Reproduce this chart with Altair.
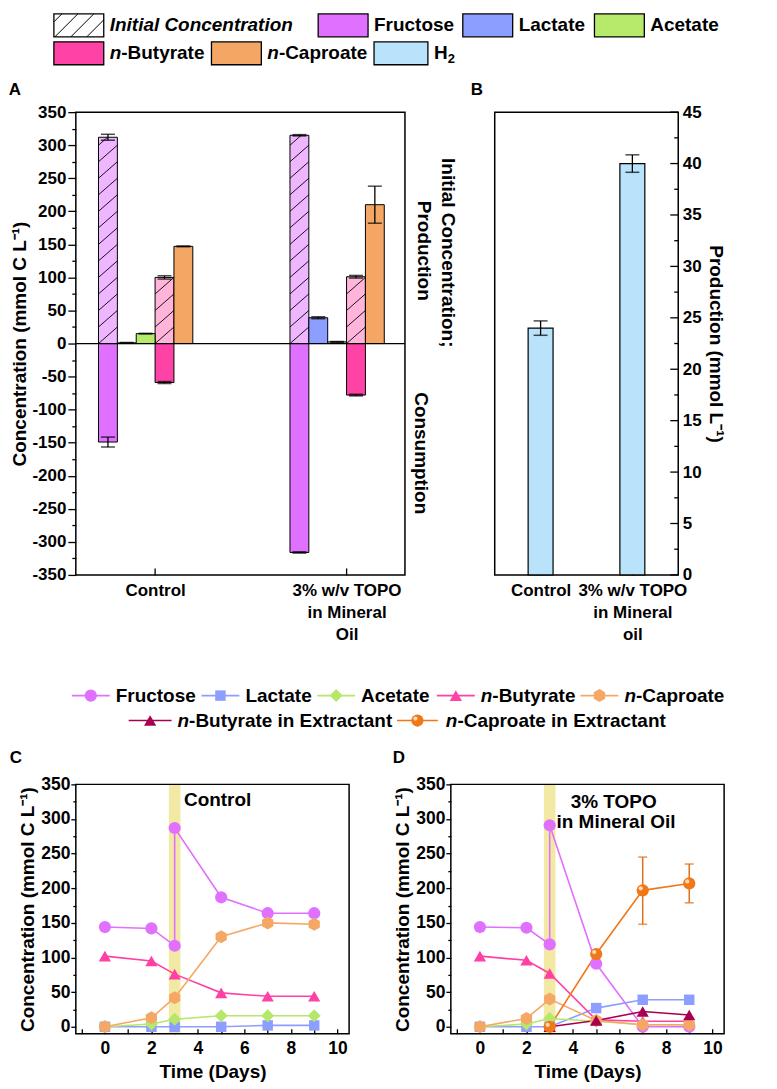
import json
import altair as alt
import pandas as pd

FONT = "Liberation Sans"
INK = "#000000"

# ---------------- Panel A : concentration (mmol C L-1) ----------------
a_group_pos = [1, 2]
a_x_labels = [["Control"], ["3% w/v TOPO", "in Mineral", "Oil"]]
a_series = ["Fructose", "Lactate", "Acetate", "n-Butyrate", "n-Caproate", "H2"]
fructose_initial = [312, 315]
fructose_initial_err = [4.5, 1.0]
butyrate_initial = [100, 101]
butyrate_initial_err = [2.5, 2.0]
fructose_consumption = [-149, -316]
fructose_consumption_err = [7.5, 1.0]
lactate_production = [1.0, 39]
lactate_production_err = [0.6, 1.5]
acetate_production = [15, 2.5]
acetate_production_err = [0.4, 0.6]
butyrate_consumption = [-59, -78]
butyrate_consumption_err = [1.5, 1.2]
caproate_production = [147, 210]
caproate_production_err = [0.6, 28]

# ---------------- Panel B : H2 production (mmol L-1) ----------------
b_group_pos = [1, 2]
b_x_labels = [["Control"], ["3% w/v TOPO", "in Mineral", "oil"]]
h2_production = [24.0, 40.0]
h2_production_err = [0.7, 0.85]

# ---------------- Panels C / D : time courses ----------------
days_feed = [0, 2, 3, 3, 5, 7, 9]
days = [0, 2, 3, 5, 7, 9]
days_ext = [3, 5, 7, 9]
feed_window = [2.75, 3.25]
c_fructose = [144, 142, 117, 287, 187, 164, 164]
c_lactate = [0, 0, 0, 0, 2, 2]
c_acetate = [0, 4, 11, 16, 16, 16]
c_butyrate = [102, 95, 76, 49, 44, 44]
c_caproate = [0, 13, 42, 130, 150, 148]
d_fructose = [144, 143, 119, 291, 91, 0, 0]
d_lactate = [0, 0, 0, 27, 39, 39]
d_acetate = [0, 4, 12, 8, 3, 3]
d_butyrate = [102, 96, 77, 10, 8, 8]
d_caproate = [0, 12, 40, 9, 3, 3]
d_butyrate_ext = [0, 9, 22, 17]
d_caproate_ext = [0, 105, 197, 207]
d_caproate_ext_lo = [0, 101, 148, 179]
d_caproate_ext_hi = [0, 109, 245, 235]

ts_series = ["Fructose", "Lactate", "Acetate", "n-Butyrate", "n-Caproate",
             "n-Butyrate in Extractant", "n-Caproate in Extractant"]

# ---------------- styles ----------------
a_colors = {"Fructose": "#E070FF", "Lactate": "#8C9EFF", "Acetate": "#B7E96B",
            "n-Butyrate": "#FF42A6", "n-Caproate": "#F4A764", "H2": "#B8E3FA"}
a_light = {"Fructose": "#EDB6FF", "n-Butyrate": "#FFB5DA"}
HEX = "M0,-1L0.866,-0.5L0.866,0.5L0,1L-0.866,0.5L-0.866,-0.5Z"
ts_colors = ["#E070FF", "#8C9EFF", "#B5E86A", "#FF40A5", "#F5A865", "#A8004F", "#F07818"]
ts_shapes = ["circle", "square", "diamond", "triangle-up", HEX, "triangle-up", "circle"]
ts_sizes = dict(zip(ts_series, [150, 110, 170, 150, 170, 150, 150]))

AX = dict(domain=False, grid=False, tickColor=INK, tickWidth=1.3, labelFont=FONT,
          labelFontWeight="bold", labelColor=INK, titleFont=FONT, titleFontWeight="bold",
          titleColor=INK, titleFontSize=19)
VIEW_FRAME = alt.ViewBackground(stroke=INK, strokeWidth=1.5)
VIEW_NONE = alt.ViewBackground(stroke="transparent")
TITLE_CONC = "Concentration (mmol C L\u207b\u00b9)"

# ---------------- page layout (px) ----------------
WA, HA, WB = 330, 464, 184
COL_GAP = 90                      # panel A plot -> panel B plot
ROW_GAP = 10
L1_TOP, A_TOP, C_TOP = 8, 107, 781
WT, HT = 274, 250
D_PLOT_X = 376                    # D plot left, relative to A/C plot left
D_SHIFT = WA + COL_GAP - D_PLOT_X


def label_expr(positions, labels):
    expr = "''"
    for p, lab in zip(positions, labels):
        val = json.dumps(lab[0]) if len(lab) == 1 else json.dumps(lab)
        expr = f"datum.value === {p} ? {val} : ({expr})"
    return expr


def const_text(text, x, y, size=19, angle=0, align="center", style="normal"):
    return alt.Chart(pd.DataFrame({"t": [text]})).mark_text(
        text=text, font=FONT, fontSize=size, fontWeight="bold", fontStyle=style,
        angle=angle, align=align, baseline="middle", color=INK,
    ).encode(x=alt.value(x), y=alt.value(y))


def ax_(field, scale, axis):
    return dict(field=field, type="quantitative", scale=scale, axis=axis)


# ================= Panel A =================
XA = alt.Scale(domain=[0.586, 2.305], nice=False, zero=False)
YA = alt.Scale(domain=[-350, 350], nice=False, zero=False)
BW = 0.0985


def a_rows(name, values, errs, light):
    k = a_series.index(name)
    col = a_light[name] if light else a_colors[name]
    return [{"g": g, "k": k, "series": name, "v": v, "err": e, "fillc": col}
            for g, v, e in zip(a_group_pos, values, errs)]


df_init = pd.DataFrame(a_rows("Fructose", fructose_initial, fructose_initial_err, True)
                       + a_rows("n-Butyrate", butyrate_initial, butyrate_initial_err, True))
df_solid = pd.DataFrame(a_rows("Fructose", fructose_consumption, fructose_consumption_err, False)
                        + a_rows("Lactate", lactate_production, lactate_production_err, False)
                        + a_rows("Acetate", acetate_production, acetate_production_err, False)
                        + a_rows("n-Butyrate", butyrate_consumption, butyrate_consumption_err, False)
                        + a_rows("n-Caproate", caproate_production, caproate_production_err, False))
df_a = pd.concat([df_init, df_solid], ignore_index=True)

minus = "(datum.value < 0 ? '-' + abs(datum.value) : '' + datum.value)"
ax_a_y = alt.Axis(values=list(range(-350, 351, 25)),
                  labelExpr=f"datum.value % 50 === 0 ? {minus} : ''",
                  tickSize={"condition": {"test": "datum.value % 50 === 0", "value": 8}, "value": 4},
                  labelFontSize=17, labelPadding=2, title=TITLE_CONC, titlePadding=2, **AX)
ax_a_x = alt.Axis(values=a_group_pos, labelExpr=label_expr(a_group_pos, a_x_labels),
                  offset=-7, tickSize=7, labelPadding=8, labelLineHeight=22, labelFontSize=17,
                  labelOverlap=False, labelFlush=False, title=None, **AX)

a_bars = alt.Chart(df_a).transform_calculate(
    xl=f"datum.g + (datum.k - 3) * {BW}", xr=f"datum.g + (datum.k - 2) * {BW}", zero="0"
).mark_rect(stroke=INK, strokeWidth=1).encode(
    x=alt.X(**ax_("xl", XA, ax_a_x)), x2=alt.X2("xr"),
    y=alt.Y(**ax_("v", YA, ax_a_y)), y2=alt.Y2("zero"),
    fill=alt.Fill("fillc:N", scale=None),
)
a_hatch = alt.Chart(df_init).transform_calculate(
    s="sequence(0, datum.v, 25)"
).transform_flatten(["s"]).transform_calculate(
    xl=f"datum.g + (datum.k - 3) * {BW}", ytop="min(datum.s + 25, datum.v)"
).transform_calculate(
    xr=f"datum.xl + {BW} * (datum.ytop - datum.s) / 25"
).mark_rule(color=INK, strokeWidth=0.9).encode(
    x=alt.X(**ax_("xl", XA, ax_a_x)), x2=alt.X2("xr"),
    y=alt.Y(**ax_("s", YA, ax_a_y)), y2=alt.Y2("ytop"),
)
a_zero = alt.Chart(pd.DataFrame({"z": [0]})).mark_rule(color=INK, strokeWidth=1.2).encode(
    y=alt.Y(**ax_("z", YA, ax_a_y)))
a_errbase = alt.Chart(df_a).transform_calculate(
    xc=f"datum.g + (datum.k - 2.5) * {BW}", lo="datum.v - datum.err", hi="datum.v + datum.err")
a_err_rule = a_errbase.mark_rule(color=INK, strokeWidth=1.3).encode(
    x=alt.X(**ax_("xc", XA, ax_a_x)), y=alt.Y(**ax_("lo", YA, ax_a_y)), y2=alt.Y2("hi"))
a_err_cap = a_errbase.transform_fold(["lo", "hi"], as_=["end", "ev"]).mark_tick(
    orient="horizontal", size=14, thickness=1.5, color=INK).encode(
    x=alt.X(**ax_("xc", XA, ax_a_x)), y=alt.Y(**ax_("ev", YA, ax_a_y)))

panel_a = alt.layer(
    a_bars, a_hatch, a_zero, a_err_rule, a_err_cap,
    const_text("A", -61, -22, size=17),
    const_text("Initial Concentration;", WA + 43, 141, angle=90),
    const_text("Production", WA + 19, 139, angle=90),
    const_text("Consumption", WA + 16, 342, angle=90),
).properties(width=WA, height=HA, view=VIEW_FRAME)

# ================= Panel B =================
XB = alt.Scale(domain=[0.5, 2.5], nice=False, zero=False)
YB = alt.Scale(domain=[0, 45], nice=False, zero=False)
BHW = 12.5 / (WB / 2)
df_b = pd.DataFrame({"g": b_group_pos, "v": h2_production, "err": h2_production_err})
ax_b_y = alt.Axis(orient="right", values=list(range(0, 46, 5)), ticks=False, labelPadding=4,
                  labelFontSize=17, title="Production (mmol L\u207b\u00b9)", titlePadding=4, **AX)
ax_b_x = alt.Axis(values=b_group_pos, labelExpr=label_expr(b_group_pos, b_x_labels),
                  offset=-7, tickSize=7, labelPadding=8, labelLineHeight=22, labelFontSize=17,
                  labelOverlap=False, labelFlush=False, title=None, **AX)
b_bars = alt.Chart(df_b).transform_calculate(
    xl=f"datum.g - {BHW}", xr=f"datum.g + {BHW}", zero="0"
).mark_rect(fill=a_colors["H2"], stroke=INK, strokeWidth=1.2).encode(
    x=alt.X(**ax_("xl", XB, ax_b_x)), x2=alt.X2("xr"),
    y=alt.Y(**ax_("v", YB, ax_b_y)), y2=alt.Y2("zero"))
b_errbase = alt.Chart(df_b).transform_calculate(lo="datum.v - datum.err", hi="datum.v + datum.err")
b_err_rule = b_errbase.mark_rule(color=INK, strokeWidth=1.3).encode(
    x=alt.X(**ax_("g", XB, ax_b_x)), y=alt.Y(**ax_("lo", YB, ax_b_y)), y2=alt.Y2("hi"))
b_err_cap = b_errbase.transform_fold(["lo", "hi"], as_=["end", "ev"]).mark_tick(
    orient="horizontal", size=14, thickness=1.5, color=INK).encode(
    x=alt.X(**ax_("g", XB, ax_b_x)), y=alt.Y(**ax_("ev", YB, ax_b_y)))
b_major = alt.Chart(pd.DataFrame({"t": list(range(0, 46, 5))})).mark_rule(
    color=INK, strokeWidth=1.3).encode(
    x=alt.value(WB - 8), x2=alt.value(WB), y=alt.Y(**ax_("t", YB, ax_b_y)))
b_minor = alt.Chart(pd.DataFrame({"t": [2.5 + 5 * i for i in range(9)]})).mark_rule(
    color=INK, strokeWidth=1.3).encode(
    x=alt.value(WB - 4), x2=alt.value(WB), y=alt.Y(**ax_("t", YB, ax_b_y)))
panel_b = alt.layer(
    b_bars, b_err_rule, b_err_cap, b_major, b_minor, const_text("B", -18, -22, size=17)
).properties(width=WB, height=HA, view=VIEW_FRAME)

# ================= Panels C / D =================
T_DOMAIN = [-1.25, 10.5]
YT = alt.Scale(domain=[-10, 350], nice=False, zero=False)
color_t = alt.Color("series:N", scale=alt.Scale(domain=ts_series, range=ts_colors), legend=None)
shape_t = alt.Shape("series:N", scale=alt.Scale(domain=ts_series, range=ts_shapes), legend=None)


def ts_table(series_data):
    rows = []
    for name, xs, ys in series_data:
        for i, (x, y) in enumerate(zip(xs, ys)):
            rows.append({"series": name, "day": x, "val": y, "idx": i, "sz": ts_sizes[name]})
    return pd.DataFrame(rows)


def ts_panel(series_data, notes, letter, shift, err_df=None):
    # shift: how far the plot frame starts to the left of this grid cell
    XT = alt.Scale(domain=T_DOMAIN, range=[-shift, WT - shift], nice=False, zero=False)
    ax_x = alt.Axis(values=list(range(-1, 11)),
                    labelExpr="datum.value >= 0 && datum.value % 2 === 0 ? datum.label : ''",
                    offset=-5, tickSize=5, labelPadding=6, labelFontSize=17.5, labelFlush=False,
                    labelOverlap=False, title="Time (Days)", titlePadding=5,
                    titleX=WT / 2 - shift, **AX)
    ax_y = alt.Axis(values=list(range(0, 351, 25)),
                    labelExpr="datum.value % 50 === 0 ? datum.label : ''",
                    tickSize={"condition": {"test": "datum.value % 50 === 0", "value": 5}, "value": 3},
                    labelFontSize=17.5, labelPadding=1, title=TITLE_CONC, titlePadding=3,
                    offset=shift, **AX)
    X = lambda f: alt.X(**ax_(f, XT, ax_x))
    Y = lambda f: alt.Y(**ax_(f, YT, ax_y))
    df = ts_table(series_data)
    band = alt.Chart(pd.DataFrame({"b0": [feed_window[0]], "b1": [feed_window[1]]})).mark_rect(
        color="#F2EAA4").encode(x=X("b0"), x2=alt.X2("b1"))
    lines = alt.Chart(df).mark_line(strokeWidth=1.6).encode(
        x=X("day"), y=Y("val"), color=color_t, order=alt.Order("idx:Q"))
    layers = [band, lines]
    if err_df is not None:
        eb = alt.Chart(err_df).transform_filter("datum.hi > datum.lo")
        layers.append(eb.mark_rule(color="#E0701A", strokeWidth=1.5).encode(
            x=X("day"), y=Y("lo"), y2=alt.Y2("hi")))
        layers.append(eb.transform_fold(["lo", "hi"], as_=["end", "ev"]).mark_tick(
            orient="horizontal", size=9, thickness=1.6, color="#E0701A").encode(
            x=X("day"), y=Y("ev")))
    points = alt.Chart(df).mark_point(filled=True, opacity=1, strokeWidth=1).encode(
        x=X("day"), y=Y("val"), color=color_t, shape=shape_t, size=alt.Size("sz:Q", scale=None))
    shine = alt.Chart(df).transform_filter(
        "datum.series === 'n-Caproate in Extractant'").mark_point(
        filled=True, opacity=1, color="#FFD9B8", size=18, shape="circle", xOffset=-2, yOffset=-2
    ).encode(x=X("day"), y=Y("val"))
    layers += [points, shine]
    for text, d, v, align in notes:
        layers.append(alt.Chart(pd.DataFrame({"d": [d], "v": [v], "t": [text]})).mark_text(
            font=FONT, fontSize=19, fontWeight="bold", color=INK, align=align, baseline="middle"
        ).encode(x=X("d"), y=Y("v"), text="t:N"))
    frame = alt.Chart(pd.DataFrame({"x0": [T_DOMAIN[0]], "x1": [T_DOMAIN[1]],
                                    "y0": [YT.domain[0]], "y1": [YT.domain[1]]})).mark_rect(
        fill="transparent", stroke=INK, strokeWidth=1.5).encode(
        x=X("x0"), x2=alt.X2("x1"), y=Y("y0"), y2=alt.Y2("y1"))
    layers += [frame, const_text(letter[0], letter[1] - shift, -26, size=17)]
    return alt.layer(*layers).properties(width=WT - shift, height=HT, view=VIEW_NONE)


c_data = [("Fructose", days_feed, c_fructose), ("Lactate", days, c_lactate),
          ("Acetate", days, c_acetate), ("n-Butyrate", days, c_butyrate),
          ("n-Caproate", days, c_caproate)]
d_data = [("Fructose", days_feed, d_fructose), ("Lactate", days, d_lactate),
          ("Acetate", days, d_acetate), ("n-Butyrate", days, d_butyrate),
          ("n-Caproate", days, d_caproate),
          ("n-Butyrate in Extractant", days_ext, d_butyrate_ext),
          ("n-Caproate in Extractant", days_ext, d_caproate_ext)]
d_err = pd.DataFrame({"day": days_ext, "lo": d_caproate_ext_lo, "hi": d_caproate_ext_hi})

panel_c = ts_panel(c_data, [("Control", 3.4, 328, "left")], ("C", -60), 0)
panel_d = ts_panel(d_data, [("3% TOPO", 5.75, 324, "center"), ("in Mineral Oil", 5.85, 295, "center")],
                   ("D", -52), D_SHIFT, d_err)

# ================= legends =================
LW = 300
LX = alt.Scale(domain=[0, LW], range=[0, LW], nice=False, zero=False)


def text_parts(name, tx, ty, italic_all=False):
    if italic_all:
        return [dict(tx=tx, ty=ty, t=name, it=True, fs=19)]
    if name.startswith("n-"):
        return [dict(tx=tx, ty=ty, t="n", it=True, fs=19),
                dict(tx=tx + 11.6, ty=ty, t=name[1:], it=False, fs=19)]
    if name == "H2":
        return [dict(tx=tx, ty=ty, t="H", it=False, fs=19),
                dict(tx=tx + 13.9, ty=ty + 6, t="2", it=False, fs=13)]
    return [dict(tx=tx, ty=ty, t=name, it=False, fs=19)]


def text_layers(rows, Y):
    base = alt.Chart(pd.DataFrame(rows)).encode(
        x=alt.X("tx:Q", scale=LX, axis=None), y=alt.Y("ty:Q", scale=Y, axis=None),
        text="t:N", size=alt.Size("fs:Q", scale=None))
    return [base.transform_filter("datum.it").mark_text(
                align="left", baseline="middle", font=FONT, fontWeight="bold",
                fontStyle="italic", color=INK),
            base.transform_filter("!datum.it").mark_text(
                align="left", baseline="middle", font=FONT, fontWeight="bold", color=INK)]


L1_H = A_TOP - L1_TOP - ROW_GAP
L2_TOP = A_TOP + HA + ROW_GAP
L2_H = C_TOP - L2_TOP - ROW_GAP

# top legend (bar colours); layout in px relative to panel A plot's left edge
top_legend_layout = {
    "Initial Concentration": (0, -22, 28, 34),
    "Fructose": (0, 243, 293, 299),
    "Lactate": (0, 388, 438, 444),
    "Acetate": (0, 520, 570, 576),
    "n-Butyrate": (1, -22, 28, 34),
    "n-Caproate": (1, 136, 186, 192),
    "H2": (1, 299, 353, 359),
}
top_rows_y = [20, 48]
L1Y = alt.Scale(domain=[L1_TOP, L1_TOP + L1_H], nice=False, zero=False, reverse=True)
box_rows, t1_rows = [], []
for name, (row, x0, x1, tx) in top_legend_layout.items():
    yc = top_rows_y[row]
    fillc = "#FFFFFF" if name == "Initial Concentration" else a_colors[name]
    box_rows.append(dict(x0=x0, x1=x1, y0=yc - 11.5, y1=yc + 11.5, fillc=fillc))
    t1_rows += text_parts(name, tx, yc, italic_all=(name == "Initial Concentration"))
hx0, hx1 = top_legend_layout["Initial Concentration"][1:3]
hyt, hyb = top_rows_y[0] - 11.5, top_rows_y[0] + 11.5
hh = hyb - hyt
hatch_rows = []
xb = hx0 - hh + 8
while xb < hx1:
    xs, ys, xe, ye = xb, hyb, xb + hh, hyt
    if xs < hx0:
        ys -= hx0 - xs
        xs = hx0
    if xe > hx1:
        ye += xe - hx1
        xe = hx1
    hatch_rows.append(dict(xs=xs, ys=ys, xe=xe, ye=ye))
    xb += 16
l1_boxes = alt.Chart(pd.DataFrame(box_rows)).mark_rect(stroke=INK, strokeWidth=1.3).encode(
    x=alt.X("x0:Q", scale=LX, axis=None), x2=alt.X2("x1"),
    y=alt.Y("y0:Q", scale=L1Y, axis=None), y2=alt.Y2("y1"), fill=alt.Fill("fillc:N", scale=None))
l1_hatch = alt.Chart(pd.DataFrame(hatch_rows)).mark_rule(color=INK, strokeWidth=1).encode(
    x=alt.X("xs:Q", scale=LX, axis=None), x2=alt.X2("xe"),
    y=alt.Y("ys:Q", scale=L1Y, axis=None), y2=alt.Y2("ye"))
top_legend = alt.layer(l1_boxes, l1_hatch, *text_layers(t1_rows, L1Y)).properties(
    width=LW, height=L1_H, view=VIEW_NONE)

# middle legend (time-course series)
mid_legend_layout = {
    "Fructose": (0, -4, 34, 40),
    "Lactate": (0, 126, 164, 170),
    "Acetate": (0, 242, 280, 286),
    "n-Butyrate": (0, 362, 400, 406),
    "n-Caproate": (0, 506, 544, 550),
    "n-Butyrate in Extractant": (1, 53, 96, 102),
    "n-Caproate in Extractant": (1, 322, 363, 371),
}
mid_rows_y = [692, 717]
L2Y = alt.Scale(domain=[L2_TOP, L2_TOP + L2_H], nice=False, zero=False, reverse=True)
seg_rows, t2_rows = [], []
for name, (row, x0, x1, tx) in mid_legend_layout.items():
    yc = mid_rows_y[row]
    seg_rows.append(dict(series=name, lx0=x0, lx1=x1, ly=yc, sz=ts_sizes[name]))
    t2_rows += text_parts(name, tx, yc)
seg_df = pd.DataFrame(seg_rows)
l2_lines = alt.Chart(seg_df).mark_rule(strokeWidth=1.6).encode(
    x=alt.X("lx0:Q", scale=LX, axis=None), x2=alt.X2("lx1"),
    y=alt.Y("ly:Q", scale=L2Y, axis=None), color=color_t)
l2_pts_base = alt.Chart(seg_df).transform_calculate(mx="(datum.lx0 + datum.lx1) / 2")
l2_points = l2_pts_base.mark_point(filled=True, opacity=1, strokeWidth=1).encode(
    x=alt.X("mx:Q", scale=LX, axis=None), y=alt.Y("ly:Q", scale=L2Y, axis=None),
    color=color_t, shape=shape_t, size=alt.Size("sz:Q", scale=None))
l2_shine = l2_pts_base.transform_filter(
    "datum.series === 'n-Caproate in Extractant'").mark_point(
    filled=True, opacity=1, color="#FFD9B8", size=18, shape="circle", xOffset=-2, yOffset=-2
).encode(x=alt.X("mx:Q", scale=LX, axis=None), y=alt.Y("ly:Q", scale=L2Y, axis=None))
mid_legend = alt.layer(l2_lines, l2_points, l2_shine, *text_layers(t2_rows, L2Y)).properties(
    width=LW, height=L2_H, view=VIEW_NONE)


def spacer():
    return alt.Chart(pd.DataFrame({"a": [0]})).mark_point(opacity=0).encode(
        x=alt.value(0), y=alt.value(0)).properties(width=1, height=1, view=VIEW_NONE)


# ================= layout =================
chart = alt.concat(
    top_legend, spacer(),
    panel_a, panel_b,
    mid_legend, spacer(),
    panel_c, panel_d,
    columns=2, bounds="flush", align="each",
    spacing={"row": ROW_GAP, "column": COL_GAP},
).properties(
    padding={"left": 0, "top": 0, "right": 0, "bottom": 0}
).configure(font=FONT).configure_view(stroke=INK, strokeWidth=1.5)

chart.save("out.html", embed_options={"renderer": "svg", "actions": False})
